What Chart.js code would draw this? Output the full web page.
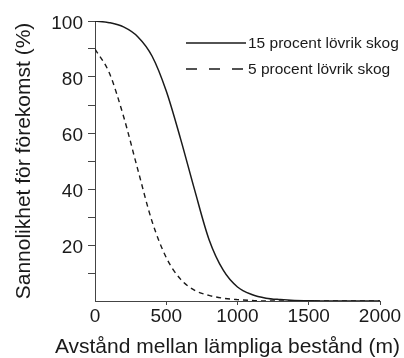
<!DOCTYPE html>
<html>
<head>
<meta charset="utf-8">
<script src="https://cdn.jsdelivr.net/npm/chart.js@4.4.1/dist/chart.umd.min.js"></script>
<style>
  html, body { margin: 0; padding: 0; background: #fff; }
  #chart { display: block; }
</style>
</head>
<body>
<canvas id="chart" width="404" height="358"></canvas>
<script>
// distance between suitable stands (m), every 100 m
const distances = [0, 100, 200, 300, 400, 500, 600, 700, 800, 900, 1000,
  1100, 1200, 1300, 1400, 1500, 1600, 1700, 1800, 1900, 2000];
const prob15 = [100, 99.4, 97.9, 94.4, 87.5, 75, 58, 39.5, 22, 11, 5,
  2.3, 1, 0.5, 0.2, 0.1, 0, 0, 0, 0, 0];
const prob5 = [90, 81.5, 66, 47, 28.5, 15.5, 7.8, 3.8, 2, 1, 0.5,
  0.2, 0, 0, 0, 0, 0, 0, 0, 0, 0];
const seriesNames = ['15 procent lövrik skog', '5 procent lövrik skog'];
const xLabels = [0, 500, 1000, 1500, 2000];
const yLabels = [20, 40, 60, 80, 100];

const FONT = "'Liberation Sans', Arial, sans-serif";
const INK = '#1a1a1a';
const AXIS = '#444';

const toPoints = vals => distances.map((d, i) => ({ x: d, y: vals[i] }));
const hideZero = c => (c.tick && c.tick.value === 0 ? 'rgba(0,0,0,0)' : AXIS);

// legend drawn by hand, the built-in one can't hang over the right edge of the plot
const lineKey = {
  id: 'lineKey',
  afterDatasetsDraw(chart, args, opts) {
    const ctx = chart.ctx;
    ctx.save();
    ctx.font = opts.size + 'px ' + FONT;
    ctx.textBaseline = 'middle';
    ctx.fillStyle = INK;
    chart.data.datasets.forEach((ds, i) => {
      const y = opts.y + i * opts.rowGap;
      ctx.beginPath();
      ctx.setLineDash(opts.dashes[i]);
      ctx.lineWidth = ds.borderWidth;
      ctx.strokeStyle = ds.borderColor;
      ctx.moveTo(opts.x, y);
      ctx.lineTo(opts.x + opts.length, y);
      ctx.stroke();
      ctx.fillText(ds.label, opts.x + opts.length + 2, y + 1);
    });
    ctx.restore();
  }
};

new Chart(document.getElementById('chart'), {
  type: 'line',
  data: {
    datasets: [
      {
        label: seriesNames[0],
        data: toPoints(prob15),
        borderColor: INK,
        borderWidth: 1.5,
        pointRadius: 0,
        cubicInterpolationMode: 'monotone',
        fill: false
      },
      {
        label: seriesNames[1],
        data: toPoints(prob5),
        borderColor: INK,
        borderWidth: 1.4,
        borderDash: [5, 4],
        pointRadius: 0,
        cubicInterpolationMode: 'monotone',
        fill: false
      }
    ]
  },
  options: {
    responsive: false,
    animation: false,
    devicePixelRatio: 1,
    layout: { padding: { top: 21, right: 4, bottom: 0, left: 0 } },
    plugins: {
      legend: { display: false },
      tooltip: { enabled: false },
      title: {
        display: true,
        position: 'bottom',
        align: 'end',
        text: 'Avstånd mellan lämpliga bestånd (m)',
        color: INK,
        font: { family: FONT, size: 21, weight: 'normal', lineHeight: 1 },
        padding: 0
      },
      lineKey: { x: 186, y: 43, rowGap: 26, length: 60, size: 15.5, dashes: [[], [11, 12]] }
    },
    scales: {
      x: {
        type: 'linear',
        min: 0,
        max: 2000,
        afterFit(scale) {
          scale.height = 36;
          scale.paddingRight = 24;
        },
        border: { color: AXIS, width: 1 },
        grid: { drawOnChartArea: false, tickLength: 4, color: hideZero },
        ticks: {
          stepSize: 500,
          autoSkip: false,
          maxRotation: 0,
          padding: 0,
          color: INK,
          font: { family: FONT, size: 19 },
          callback: v => (xLabels.includes(v) ? String(v) : '')
        }
      },
      y: {
        min: 0,
        max: 100,
        afterFit(scale) {
          scale.width = 95;
        },
        border: { color: AXIS, width: 1 },
        grid: { drawOnChartArea: false, tickLength: 7, color: hideZero },
        title: {
          display: true,
          text: 'Sannolikhet för förekomst (%)',
          color: INK,
          font: { family: FONT, size: 21, lineHeight: 1 },
          padding: { top: 14, bottom: 0 }
        },
        ticks: {
          stepSize: 10,
          autoSkip: false,
          padding: 5,
          labelOffset: 3,
          color: INK,
          font: { family: FONT, size: 19 },
          callback: v => (yLabels.includes(v) ? String(v) : '')
        }
      }
    }
  },
  plugins: [lineKey]
});
</script>
</body>
</html>
